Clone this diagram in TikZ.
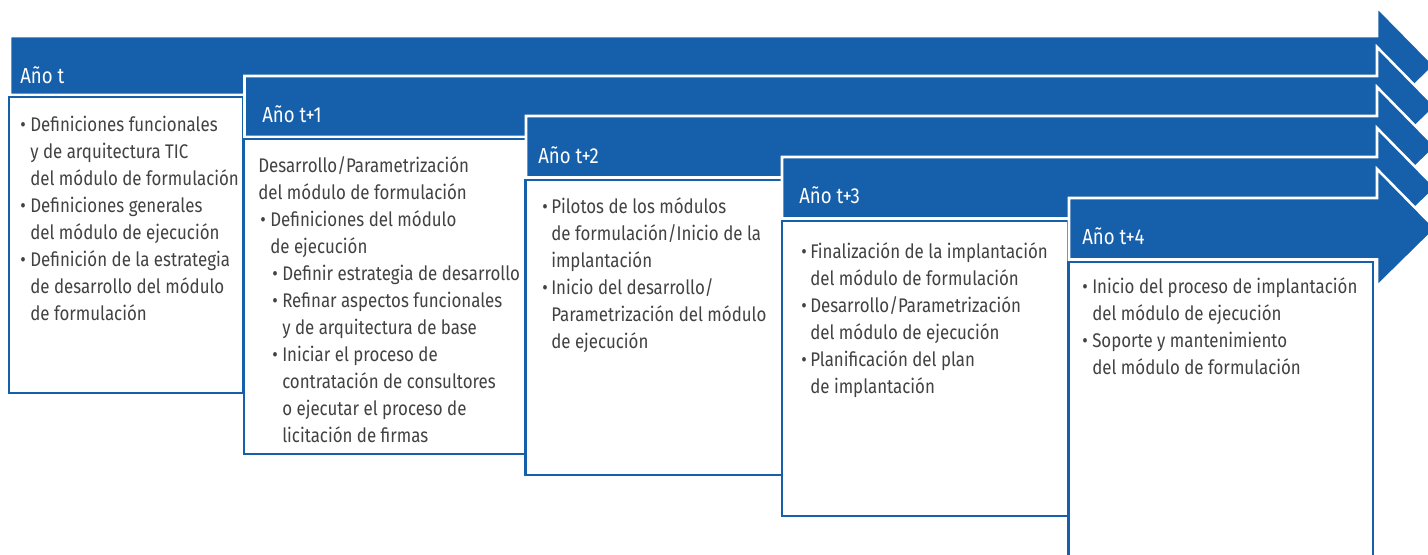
\documentclass[tikz,border=0pt]{standalone}
\usepackage{fontspec}
\setmainfont{Fira Sans}[FakeStretch=0.855]
\definecolor{myblue}{RGB}{22,95,171}
\definecolor{mygray}{RGB}{66,66,66}
\newcommand\bodyfont{\fontsize{14.8}{20.25}\selectfont}
\newcommand\hdrfont{\fontsize{16.3}{19}\selectfont}
\newcommand\bu[1]{\makebox[#1][l]{•}}
\newcommand\ind[1]{\hspace*{#1}}
\newcommand\yarrow[3]{%
  \path[arrowshape] (#1,#2) -- (1377,#2) -- (1377,{#2-29})
    -- ({1377+0.5*(#3-#2+56)},{0.5*(#2+#3)}) -- (1377,{#3+27}) -- (1377,#3)
    -- (#1,#3) -- cycle;}
\tikzset{
  arrowshape/.style={fill=myblue, draw=white, line width=1.9pt, line join=miter},
  boxshape/.style={fill=white, draw=myblue, line width=1.6pt},
  hdr/.style={anchor=base west, inner sep=0pt, text=white, font=\hdrfont},
  body/.style={anchor=base west, inner sep=0pt, align=left, text=mygray, font=\bodyfont}
}
\begin{document}
\begin{tikzpicture}[x=0.75pt,y=-0.75pt]
\clip (0,0) rectangle (1428,554);
\fill[white] (0,0) rectangle (1428,554);
% Year t  (node anchor = baseline of last line)
\yarrow{10}{36}{95}
\draw[boxshape] (9,97) rectangle (243,393);
\node[hdr] (h0) at (20,83) {Año t};
\node[body] (t0) at (20,320) {\bu{7.5pt}Definiciones funcionales\\
\ind{7.5pt}y de arquitectura TIC\\
\ind{7.5pt}del módulo de formulación\\
\bu{7.5pt}Definiciones generales\\
\ind{7.5pt}del módulo de ejecución\\
\bu{7.5pt}Definición de la estrategia\\
\ind{7.5pt}de desarrollo del módulo\\
\ind{7.5pt}de formulación};
% Year t+1
\yarrow{244.5}{76}{137}
\draw[boxshape] (244,139) rectangle (526,454);
\node[hdr] (h1) at (262,122) {Año t+1};
\node[body] (t1) at (258,442) {Desarrollo/Parametrización\\
del módulo de formulación\\
\ind{1.5pt}\bu{7.5pt}Definiciones del módulo\\
\ind{9pt}de ejecución\\
\ind{10.5pt}\bu{7.5pt}Definir estrategia de desarrollo\\
\ind{10.5pt}\bu{7.5pt}Refinar aspectos funcionales\\
\ind{18pt}y de arquitectura de base\\
\ind{10.5pt}\bu{7.5pt}Iniciar el proceso de\\
\ind{18pt}contratación de consultores\\
\ind{18pt}o ejecutar el proceso de\\
\ind{18pt}licitación de firmas};
% Year t+2
\yarrow{526}{116}{177.5}
\draw[boxshape] (525.5,180) rectangle (782,475);
\node[hdr] (h2) at (538,163) {Año t+2};
\node[body] (t2) at (542,348) {\bu{6.75pt}Pilotos de los módulos\\
\ind{6.75pt}de formulación/Inicio de la\\
\ind{6.75pt}implantación\\
\bu{6.75pt}Inicio del desarrollo/\\
\ind{6.75pt}Parametrización del módulo\\
\ind{6.75pt}de ejecución};
% Year t+3
\yarrow{782}{157}{218.5}
\draw[boxshape] (782,221) rectangle (1068,516);
\node[hdr] (h3) at (799,203) {Año t+3};
\node[body] (t3) at (801,393) {\bu{6.75pt}Finalización de la implantación\\
\ind{6.75pt}del módulo de formulación\\
\bu{6.75pt}Desarrollo/Parametrización\\
\ind{6.75pt}del módulo de ejecución\\
\bu{6.75pt}Planificación del plan\\
\ind{6.75pt}de implantación};
% Year t+4
\yarrow{1069}{198}{259.5}
\draw[boxshape] (1068.5,262) rectangle (1373,580);
\node[hdr] (h4) at (1082,244) {Año t+4};
\node[body] (t4) at (1082,374) {\bu{7.5pt}Inicio del proceso de implantación\\
\ind{7.5pt}del módulo de ejecución\\
\bu{7.5pt}Soporte y mantenimiento\\
\ind{7.5pt}del módulo de formulación};
\end{tikzpicture}
\end{document}
